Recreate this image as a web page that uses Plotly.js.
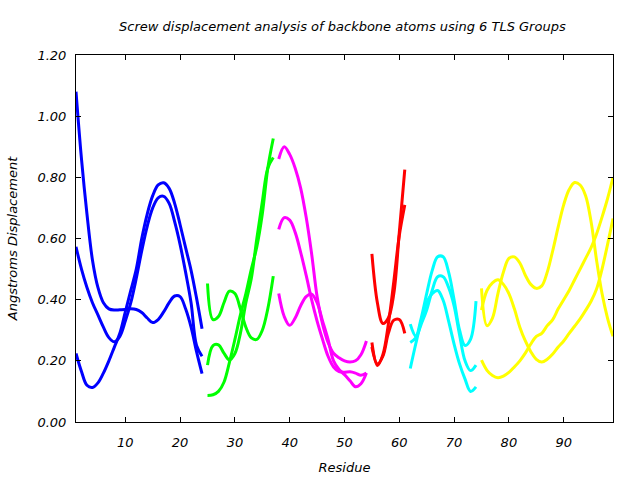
<!DOCTYPE html>
<html>
<head>
<meta charset="utf-8">
<script src="https://cdn.plot.ly/plotly-3.0.1.min.js"></script>
<style>html,body{margin:0;padding:0;background:#fff;}#chart{width:640px;height:480px;}</style>
</head>
<body>
<div id="chart"></div>
<script>
// Residue numbers for each TLS group
var resGroup1 = [1,2,3,4,5,6,7,8,9,10,11,12,13,14,15,16,17,18,19,20,21,22,23,24];
var resGroup2 = [25,26,27,28,29,30,31,32,33,34,35,36,37];
var resGroup3 = [38,39,40,41,42,43,44,45,46,47,48,49,50,51,52,53,54];
var resGroup4 = [55,56,57,58,59,60,61];
var resGroup5 = [62,63,64,65,66,67,68,69,70,71,72,73,74];
var resGroup6 = [75,76,77,78,79,80,81,82,83,84,85,86,87,88,89,90,91,92,93,94,95,96,97,98,99];

// Screw displacement (Angstroms), three curves per group
var g1a = [1.08,0.86,0.68,0.53,0.44,0.39,0.37,0.366,0.367,0.368,0.37,0.368,0.358,0.34,0.325,0.335,0.36,0.39,0.412,0.41,0.37,0.31,0.23,0.158];
var g1b = [0.573,0.50,0.44,0.39,0.35,0.31,0.276,0.262,0.28,0.33,0.39,0.47,0.56,0.64,0.70,0.733,0.738,0.715,0.655,0.58,0.49,0.39,0.25,0.215];
var g1c = [0.224,0.165,0.12,0.113,0.128,0.16,0.20,0.245,0.29,0.36,0.43,0.50,0.60,0.68,0.74,0.775,0.782,0.764,0.715,0.645,0.57,0.496,0.405,0.305];

var g2a = [0.453,0.335,0.345,0.39,0.428,0.42,0.37,0.31,0.275,0.27,0.30,0.37,0.477];
var g2b = [0.186,0.25,0.252,0.225,0.203,0.224,0.29,0.39,0.47,0.60,0.72,0.83,0.865];
var g2c = [0.087,0.089,0.10,0.13,0.195,0.27,0.35,0.42,0.50,0.573,0.68,0.83,0.927];

var g3a = [0.86,0.90,0.875,0.83,0.765,0.67,0.55,0.41,0.32,0.26,0.225,0.21,0.20,0.196,0.20,0.22,0.265];
var g3b = [0.63,0.668,0.66,0.62,0.555,0.48,0.40,0.33,0.27,0.215,0.18,0.165,0.163,0.164,0.16,0.153,0.16];
var g3c = [0.42,0.345,0.316,0.34,0.38,0.41,0.418,0.39,0.33,0.27,0.20,0.172,0.155,0.135,0.115,0.125,0.16];

var g4a = [0.55,0.39,0.322,0.34,0.42,0.62,0.825];
var g4b = [0.245,0.19,0.215,0.29,0.333,0.335,0.29];
var g4c = [0.26,0.185,0.22,0.32,0.46,0.61,0.71];

var g5a = [0.32,0.28,0.34,0.42,0.495,0.54,0.54,0.49,0.40,0.30,0.25,0.27,0.395];
var g5b = [0.26,0.275,0.32,0.366,0.43,0.475,0.475,0.44,0.38,0.285,0.20,0.168,0.186];
var g5c = [0.175,0.255,0.33,0.39,0.42,0.43,0.398,0.33,0.255,0.19,0.14,0.10,0.115];

var g6a = [0.437,0.315,0.34,0.42,0.49,0.535,0.54,0.52,0.48,0.45,0.437,0.445,0.49,0.56,0.638,0.71,0.76,0.783,0.775,0.74,0.655,0.529,0.42,0.34,0.28];
var g6b = [0.366,0.43,0.455,0.465,0.45,0.42,0.37,0.31,0.265,0.23,0.205,0.196,0.205,0.222,0.245,0.265,0.29,0.313,0.337,0.365,0.395,0.435,0.50,0.58,0.665];
var g6c = [0.202,0.169,0.152,0.145,0.15,0.162,0.18,0.20,0.225,0.255,0.28,0.29,0.315,0.335,0.37,0.40,0.43,0.465,0.50,0.535,0.57,0.615,0.67,0.73,0.80];

var xTickVals = [10,20,30,40,50,60,70,80,90];
var yTickVals = [0,0.2,0.4,0.6,0.8,1.0,1.2];

var groups = [
  {x: resGroup1, ys: [g1a,g1b,g1c], color: '#0000ff'},
  {x: resGroup2, ys: [g2a,g2b,g2c], color: '#00ff00'},
  {x: resGroup3, ys: [g3a,g3b,g3c], color: '#ff00ff'},
  {x: resGroup4, ys: [g4a,g4b,g4c], color: '#ff0000'},
  {x: resGroup5, ys: [g5a,g5b,g5c], color: '#00ffff'},
  {x: resGroup6, ys: [g6a,g6b,g6c], color: '#ffff00'}
];

var traces = [];
groups.forEach(function(g){
  g.ys.forEach(function(y){
    traces.push({
      x: g.x, y: y, type: 'scatter', mode: 'lines',
      line: {color: g.color, width: 3, shape: 'spline', smoothing: 1},
      showlegend: false, hoverinfo: 'none'
    });
  });
});

var fontBase = {family: 'DejaVu Sans, sans-serif', size: 13, color: '#000', style: 'italic'};

var layout = {
  width: 640, height: 480,
  paper_bgcolor: '#fff', plot_bgcolor: '#fff',
  margin: {l: 76, r: 27, t: 55, b: 58, pad: 0},
  font: fontBase,
  title: {text: 'Screw displacement analysis of backbone atoms using 6 TLS Groups',
          font: fontBase, x: 0.535, xanchor: 'center', y: 0.944, yanchor: 'middle'},
  showlegend: false,
  xaxis: {
    range: [1, 99], tickvals: xTickVals, ticks: 'inside', ticklen: 5, tickcolor: '#000',
    showline: true, linecolor: '#000', linewidth: 1, mirror: 'ticks', showgrid: false, zeroline: false,
    tickfont: fontBase, ticklabelstandoff: 8,
    title: {text: 'Residue', font: fontBase, standoff: 14}
  },
  yaxis: {
    range: [0, 1.2], tickvals: yTickVals, tickformat: '.2f', ticks: 'inside', ticklen: 5, tickcolor: '#000',
    showline: true, linecolor: '#000', linewidth: 1, mirror: 'ticks', showgrid: false, zeroline: false,
    tickfont: fontBase, ticklabelstandoff: 6,
    title: {text: 'Angstroms Displacement', font: fontBase, standoff: 16}
  }
};

Plotly.newPlot('chart', traces, layout, {staticPlot: true, displayModeBar: false});
</script>
</body>
</html>
